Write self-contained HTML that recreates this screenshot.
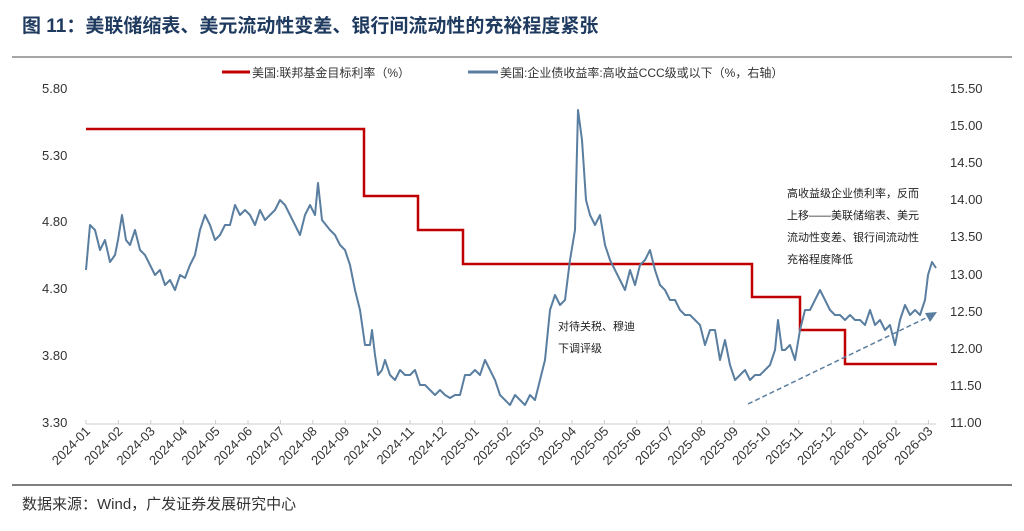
<!DOCTYPE html>
<html><head><meta charset="utf-8"><style>
body{margin:0;width:1024px;height:526px;background:#fff;overflow:hidden;font-family:"Liberation Sans","Noto Sans CJK SC",sans-serif;}
</style></head><body>
<svg width="1024" height="526" xmlns="http://www.w3.org/2000/svg" font-family="Liberation Sans, Noto Sans CJK SC, sans-serif">
<text x="22" y="32" font-size="19" font-weight="bold" fill="#1f3a5f">图  11：美联储缩表、美元流动性变差、银行间流动性的充裕程度紧张</text>
<line x1="12" y1="57" x2="1012" y2="57" stroke="#888" stroke-width="1.5"/>
<line x1="12" y1="485" x2="1012" y2="485" stroke="#333" stroke-width="1.2"/>
<text x="22" y="509" font-size="15" fill="#333">数据来源：Wind，广发证券发展研究中心</text>
<line x1="222" y1="72" x2="250" y2="72" stroke="#c00000" stroke-width="3"/>
<text x="252" y="77" font-size="12" fill="#333">美国:联邦基金目标利率（%）</text>
<line x1="468" y1="72" x2="498" y2="72" stroke="#5a7ea0" stroke-width="3"/>
<text x="500" y="77" font-size="12" fill="#333">美国:企业债收益率:高收益CCC级或以下（%，右轴）</text>
<g font-size="13" fill="#333">
<text x="42" y="93">5.80</text><text x="42" y="160">5.30</text><text x="42" y="226">4.80</text><text x="42" y="293">4.30</text><text x="42" y="360">3.80</text><text x="42" y="427">3.30</text>
</g>
<g font-size="13" fill="#333">
<text x="950" y="93">15.50</text><text x="950" y="130">15.00</text><text x="950" y="167">14.50</text><text x="950" y="204">14.00</text><text x="950" y="241">13.50</text><text x="950" y="279">13.00</text><text x="950" y="316">12.50</text><text x="950" y="353">12.00</text><text x="950" y="390">11.50</text><text x="950" y="427">11.00</text>
</g>
<line x1="86" y1="424" x2="936" y2="424" stroke="#ccc" stroke-width="1"/>
<g id="ticks" stroke="#ccc"></g>
<g font-size="13" fill="#333" id="xl"></g>
<polyline fill="none" stroke="#c00000" stroke-width="2.5" points="86,129 364,129 364,196 418,196 418,230 463,230 463,264 752,264 752,297 800,297 800,330 845,330 845,364 937,364"/>
<polyline fill="none" stroke="#5a7ea0" stroke-width="2" stroke-linejoin="round" points="86,270 90,225 95,230 100,250 105,240 110,262 115,255 118,240 122,215 126,240 130,245 135,230 140,250 145,255 150,265 155,275 160,270 165,285 170,280 175,290 180,275 185,278 190,265 195,255 200,230 205,215 210,225 215,240 220,235 225,225 230,225 235,205 240,215 245,210 250,215 255,225 260,210 265,220 270,215 275,210 280,200 285,205 290,215 295,225 300,235 305,215 310,205 315,215 318,183 322,220 326,225 330,230 335,235 340,245 345,250 350,265 355,290 360,310 365,345 370,345 372,330 375,355 378,375 382,370 385,360 390,375 395,380 400,370 405,375 410,375 415,370 420,385 425,385 430,390 435,395 440,390 445,395 450,398 455,395 460,395 465,375 470,375 475,370 480,375 485,360 490,370 495,380 500,395 505,400 510,405 515,395 520,400 525,405 530,395 535,400 540,380 545,360 550,310 555,295 560,305 565,300 570,260 575,230 578,110 582,140 586,200 590,215 595,225 600,215 605,245 610,260 615,270 620,280 625,290 630,270 635,285 640,265 645,260 650,250 655,270 660,285 665,290 670,300 675,300 680,310 685,315 690,315 695,320 700,325 705,345 710,330 715,330 720,360 725,340 730,365 735,380 740,375 745,370 750,380 755,375 760,375 765,370 770,365 775,350 778,320 782,350 785,350 790,345 795,360 800,330 805,310 810,310 815,300 820,290 825,300 830,310 835,315 840,315 845,320 850,315 855,320 860,320 865,325 870,310 875,325 880,320 885,330 890,325 895,345 900,320 905,305 910,315 915,310 920,315 925,300 928,275 932,262 936,268"/>
<line x1="748" y1="404" x2="930" y2="316" stroke="#5a7ea0" stroke-width="1.5" stroke-dasharray="5,3"/>
<polygon points="937,312 925,313 930,322" fill="#5a7ea0"/>
<g font-size="11" fill="#222">
<text x="787" y="197">高收益级企业债利率，反而</text>
<text x="787" y="219">上移——美联储缩表、美元</text>
<text x="787" y="241">流动性变差、银行间流动性</text>
<text x="787" y="263">充裕程度降低</text>
<text x="558" y="330">对待关税、穆迪</text>
<text x="558" y="352">下调评级</text>
</g>
</svg>
<script>
var xl=document.getElementById('xl'),tk=document.getElementById('ticks'),ns='http://www.w3.org/2000/svg';
for(var i=0;i<27;i++){var y=2024+Math.floor(i/12),m=i%12+1;var x=86+i*32.4;
var l=document.createElementNS(ns,'line');l.setAttribute('x1',x);l.setAttribute('x2',x);l.setAttribute('y1',420);l.setAttribute('y2',424);tk.appendChild(l);
var t=document.createElementNS(ns,'text');t.setAttribute('text-anchor','end');t.setAttribute('transform','translate('+(x+5)+',432) rotate(-45)');t.textContent=y+'-'+(m<10?'0':'')+m;xl.appendChild(t);}
</script>
</body></html>
